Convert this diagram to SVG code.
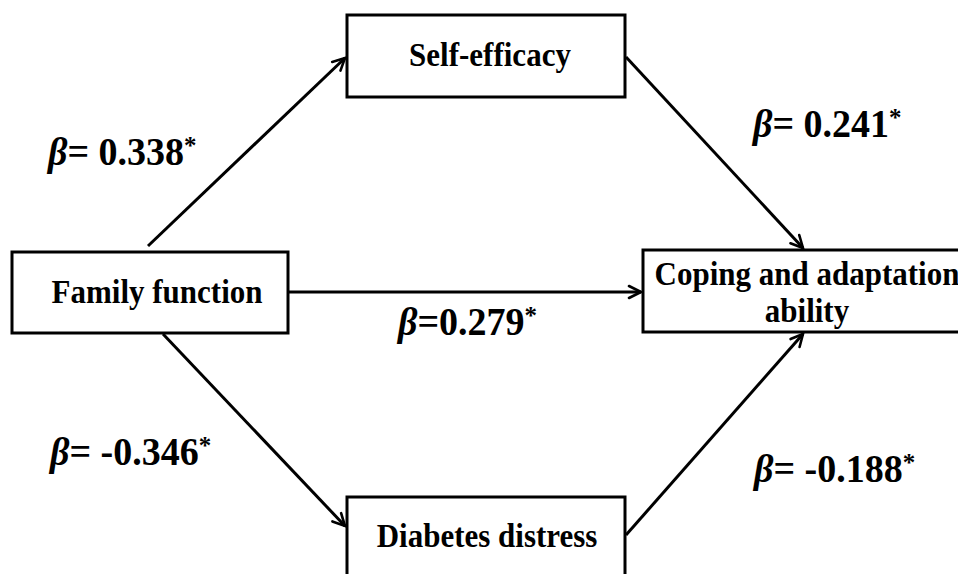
<svg xmlns="http://www.w3.org/2000/svg" width="958" height="574" viewBox="0 0 958 574">
<style>
.box{fill:#fff;stroke:#000;stroke-width:3}
.nt{font-family:"Liberation Serif","Times New Roman",serif;font-weight:bold;font-size:31px;fill:#000;text-anchor:middle}
.lbl{font-family:"Liberation Serif","Times New Roman",serif;font-weight:bold;font-size:38px;fill:#000}
.sup{font-size:25px}
.edge{stroke:#000;stroke-width:3;fill:none;marker-end:url(#arr)}
</style>
<defs>
<marker id="arr" markerUnits="userSpaceOnUse" viewBox="0 0 16 16" refX="14" refY="8" markerWidth="16" markerHeight="16" orient="auto">
<path d="M2,2 L14,8 L2,14" fill="none" stroke="#000" stroke-width="2.6" stroke-linecap="round" stroke-linejoin="miter"/>
</marker>
</defs>
<rect width="958" height="574" fill="#fff"/>
<g id="connectors">
<line class="edge" x1="148" y1="246" x2="345" y2="58"/>
<line class="edge" x1="626" y1="57" x2="803" y2="248"/>
<line class="edge" x1="288" y1="292" x2="641" y2="292"/>
<line class="edge" x1="163" y1="334" x2="345" y2="526"/>
<line class="edge" x1="626" y1="535" x2="803" y2="334"/>
</g>
<g id="self-efficacy">
<rect class="box" x="347" y="15" width="278" height="82"/>
<text class="nt" transform="translate(490,66) scale(1,1.12)">Self-efficacy</text>
</g>
<g id="family-function">
<rect class="box" x="12" y="252" width="276" height="81"/>
<text class="nt" transform="translate(157,303) scale(1,1.12)">Family function</text>
</g>
<g id="coping">
<rect class="box" x="643" y="250" width="330" height="82"/>
<text class="nt" transform="translate(807,285) scale(1,1.12)">Coping and adaptation</text>
<text class="nt" transform="translate(807,322) scale(1,1.12)">ability</text>
</g>
<g id="diabetes-distress">
<rect class="box" x="347" y="497" width="278" height="90"/>
<text class="nt" transform="translate(487,547) scale(1,1.12)">Diabetes distress</text>
</g>
<g id="labels">
<text class="lbl" transform="translate(48,165) scale(1,1.04)"><tspan font-style="italic">β</tspan>= 0.338<tspan class="sup" dy="-11">*</tspan></text>
<text class="lbl" transform="translate(753,137) scale(1,1.04)"><tspan font-style="italic">β</tspan>= 0.241<tspan class="sup" dy="-11">*</tspan></text>
<text class="lbl" transform="translate(398,335) scale(1,1.04)"><tspan font-style="italic">β</tspan>=0.279<tspan class="sup" dy="-11">*</tspan></text>
<text class="lbl" transform="translate(50,465) scale(1,1.04)"><tspan font-style="italic">β</tspan>= -0.346<tspan class="sup" dy="-11">*</tspan></text>
<text class="lbl" transform="translate(754,482) scale(1,1.04)"><tspan font-style="italic">β</tspan>= -0.188<tspan class="sup" dy="-11">*</tspan></text>
</g>
</svg>
